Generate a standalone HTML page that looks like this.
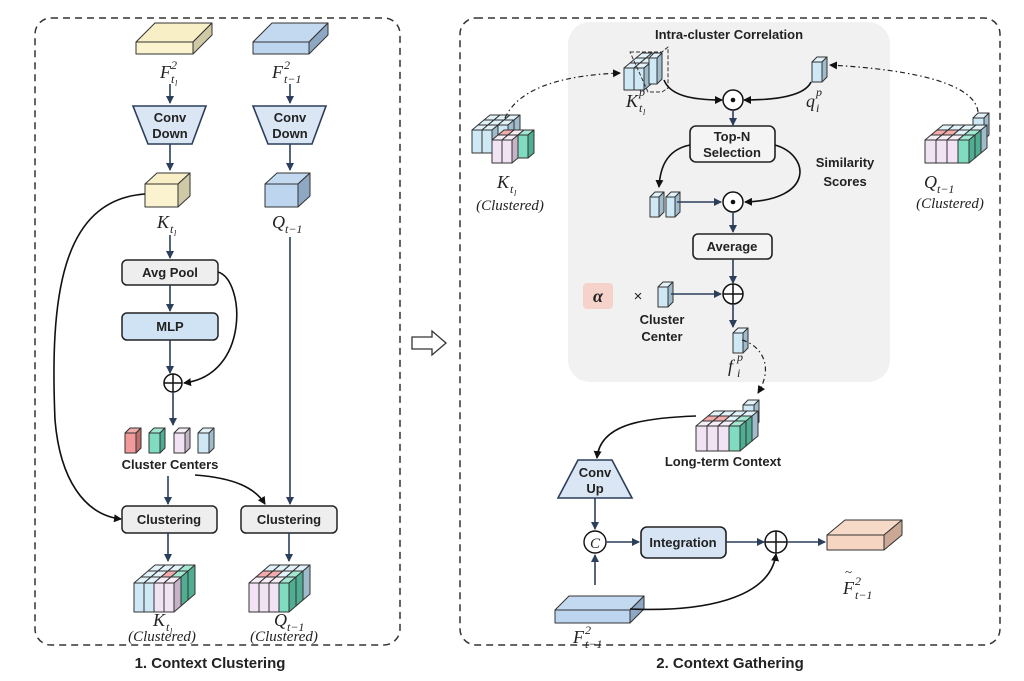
<!DOCTYPE html>
<html><head><meta charset="utf-8">
<style>
html,body{margin:0;padding:0;background:#fff;}
svg{display:block;}
.b{font-family:"Liberation Sans",sans-serif;font-weight:bold;font-size:13px;fill:#222;text-anchor:middle;}
.m{font-family:"Liberation Serif",serif;font-style:italic;font-size:18px;fill:#222;}
.c{font-family:"Liberation Serif",serif;font-style:italic;font-size:15px;fill:#222;text-anchor:middle;}
.s{font-family:"Liberation Serif",serif;font-style:italic;font-size:12px;fill:#222;}
.ss{font-family:"Liberation Serif",serif;font-style:italic;font-size:8px;fill:#222;}
.t{font-family:"Liberation Sans",sans-serif;font-weight:bold;font-size:15px;fill:#222;text-anchor:middle;}
.nv{stroke:#2b3f5c;stroke-width:1.6;fill:none;}
.bk{stroke:#111;stroke-width:1.6;fill:none;}
.dd{stroke:#222;stroke-width:1.2;fill:none;stroke-dasharray:5 3 1.5 3;}
</style></head><body>
<svg id="sv" width="1024" height="681" viewBox="0 0 1024 681" xmlns="http://www.w3.org/2000/svg">
<defs>
<marker id="ah" markerWidth="8" markerHeight="8" refX="7" refY="4" orient="auto" markerUnits="userSpaceOnUse"><path d="M0,0 L8,4 L0,8 z" fill="#2b3f5c"/></marker>
<marker id="ak" markerWidth="8" markerHeight="8" refX="7" refY="4" orient="auto" markerUnits="userSpaceOnUse"><path d="M0,0 L8,4 L0,8 z" fill="#111"/></marker>
</defs>
<rect x="35" y="18" width="365" height="627" rx="16" fill="none" stroke="#333" stroke-width="1.5" stroke-dasharray="7 5"/>
<rect x="460" y="18" width="540" height="627" rx="16" fill="none" stroke="#333" stroke-width="1.5" stroke-dasharray="7 5"/>
<text class="t" x="210" y="668">1. Context Clustering</text>
<text class="t" x="730" y="668">2. Context Gathering</text>
<path d="M412,337 L432,337 L432,331 L446,343 L432,355 L432,349 L412,349 z" fill="#fff" stroke="#333" stroke-width="1.3"/>

<rect x="568" y="22" width="322" height="360" rx="22" fill="#f1f1f1"/>
<text class="b" x="729" y="39">Intra-cluster Correlation</text>

<g id="shapes"></g>

<line class="nv" x1="170" y1="84" x2="170" y2="103" marker-end="url(#ah)"/>
<line class="nv" x1="290" y1="84" x2="290" y2="103" marker-end="url(#ah)"/>
<polygon points="133,106 206,106 192,144 148,144" fill="#dae6f3" stroke="#2b3f5c" stroke-width="1.6"/>
<polygon points="253,106 326,106 312,144 268,144" fill="#dae6f3" stroke="#2b3f5c" stroke-width="1.6"/>
<text class="b" x="170" y="122">Conv</text><text class="b" x="170" y="138">Down</text>
<text class="b" x="290" y="122">Conv</text><text class="b" x="290" y="138">Down</text>
<line class="nv" x1="170" y1="144" x2="170" y2="170" marker-end="url(#ah)"/>
<line class="nv" x1="290" y1="144" x2="290" y2="170" marker-end="url(#ah)"/>
<line class="nv" x1="170" y1="235" x2="170" y2="258" marker-end="url(#ah)"/>
<rect x="122" y="260" width="96" height="25" rx="5" fill="#eeeeee" stroke="#222" stroke-width="1.5"/>
<text class="b" x="170" y="277">Avg Pool</text>
<line class="nv" x1="170" y1="285" x2="170" y2="311" marker-end="url(#ah)"/>
<rect x="122" y="313" width="96" height="27" rx="5" fill="#cfe3f4" stroke="#222" stroke-width="1.5"/>
<text class="b" x="170" y="331">MLP</text>
<line class="nv" x1="170" y1="340" x2="170" y2="373" marker-end="url(#ah)"/>
<circle cx="173" cy="383" r="9" fill="#fff" stroke="#111" stroke-width="1.5"/>
<path d="M164,383 H182 M173,374 V392" stroke="#111" stroke-width="1.5"/>
<path class="bk" d="M218,272 C245,280 250,375 184,383" marker-end="url(#ak)"/>
<line class="nv" x1="173" y1="392" x2="173" y2="425" marker-end="url(#ah)"/>
<text class="b" x="170" y="469">Cluster Centers</text>
<line class="nv" x1="168" y1="476" x2="168" y2="504" marker-end="url(#ah)"/>
<path class="bk" d="M195,475 C235,478 255,488 265,504" marker-end="url(#ak)"/>
<path class="bk" d="M145,194 C60,200 50,300 55,420 C60,480 85,515 121,519" marker-end="url(#ak)"/>
<line class="nv" x1="290" y1="237" x2="290" y2="504" marker-end="url(#ah)"/>
<rect x="122" y="506" width="95" height="27" rx="5" fill="#eeeeee" stroke="#222" stroke-width="1.5"/>
<rect x="241" y="506" width="96" height="27" rx="5" fill="#eeeeee" stroke="#222" stroke-width="1.5"/>
<text class="b" x="169" y="524">Clustering</text>
<text class="b" x="289" y="524">Clustering</text>
<line class="nv" x1="168" y1="533" x2="168" y2="561" marker-end="url(#ah)"/>
<line class="nv" x1="289" y1="533" x2="289" y2="561" marker-end="url(#ah)"/>

<!-- left labels -->
<text class="m" x="160" y="78">F</text><text class="s" x="171" y="83">t</text><text class="ss" x="175" y="86">l</text><text class="s" x="171" y="69">2</text>
<text class="m" x="272" y="78">F</text><text class="s" x="284" y="83">t−1</text><text class="s" x="284" y="69">2</text>
<text class="m" x="157" y="228">K</text><text class="s" x="170" y="233">t</text><text class="ss" x="174" y="236">l</text>
<text class="m" x="272" y="228">Q</text><text class="s" x="285" y="233">t−1</text>
<text class="m" x="153" y="626">K</text><text class="s" x="166" y="631">t</text><text class="ss" x="170" y="634">l</text>
<text class="c" x="162" y="641">(Clustered)</text>
<text class="m" x="274" y="626">Q</text><text class="s" x="287" y="631">t−1</text>
<text class="c" x="284" y="641">(Clustered)</text>

<!-- RIGHT inner -->
<path class="dd" d="M505,118 C520,85 570,75 620,73" marker-end="url(#ak)"/>
<path class="dd" d="M978,112 C975,85 920,70 830,65" marker-end="url(#ak)"/>
<path class="bk" d="M664,80 C670,95 690,100 722,100" marker-end="url(#ak)"/>
<path class="bk" d="M811,82 C805,95 780,100 744,100" marker-end="url(#ak)"/>
<circle cx="733" cy="100" r="10" fill="#fff" stroke="#111" stroke-width="1.5"/><circle cx="733" cy="100" r="2.3" fill="#111"/>
<line class="nv" x1="733" y1="110" x2="733" y2="125" marker-end="url(#ah)"/>
<rect x="690" y="126" width="85" height="36" rx="6" fill="#f4f4f4" stroke="#222" stroke-width="1.6"/>
<text class="b" x="732" y="141">Top-N</text><text class="b" x="732" y="157">Selection</text>
<path class="bk" d="M690,145 C665,150 660,170 659,187" marker-end="url(#ak)"/>
<path class="bk" d="M775,145 C810,155 815,200 745,202" marker-end="url(#ak)"/>
<text class="b" x="845" y="167">Similarity</text><text class="b" x="845" y="186">Scores</text>
<line class="nv" x1="677" y1="202" x2="721" y2="202" marker-end="url(#ah)"/>
<circle cx="733" cy="202" r="10" fill="#fff" stroke="#111" stroke-width="1.5"/><circle cx="733" cy="202" r="2.3" fill="#111"/>
<line class="nv" x1="733" y1="212" x2="733" y2="232" marker-end="url(#ah)"/>
<rect x="693" y="234" width="79" height="25" rx="5" fill="#f4f4f4" stroke="#222" stroke-width="1.6"/>
<text class="b" x="732" y="251">Average</text>
<line class="nv" x1="733" y1="259" x2="733" y2="283" marker-end="url(#ah)"/>
<circle cx="733" cy="294" r="10" fill="#fff" stroke="#111" stroke-width="1.5"/>
<path d="M723,294 H743 M733,284 V304" stroke="#111" stroke-width="1.5"/>
<line class="nv" x1="671" y1="294" x2="721" y2="294" marker-end="url(#ah)"/>
<rect x="583" y="283" width="30" height="26" rx="4" fill="#f5d3cb"/>
<text x="598" y="302" font-family="Liberation Serif,serif" font-style="italic" font-weight="bold" font-size="18" text-anchor="middle" fill="#222">α</text>
<text x="638" y="301" font-family="Liberation Sans,sans-serif" font-size="15" text-anchor="middle" fill="#222">×</text>
<text class="b" x="662" y="324">Cluster</text><text class="b" x="662" y="341">Center</text>
<line class="nv" x1="733" y1="304" x2="733" y2="327" marker-end="url(#ah)"/>
<path class="dd" d="M742,340 C760,345 775,365 758,393" marker-end="url(#ak)"/>

<text class="m" x="626" y="107">K</text><text class="s" x="639" y="112">t</text><text class="ss" x="643" y="115">l</text><text class="s" x="639" y="96">p</text>
<text class="m" x="806" y="107">q</text><text class="s" x="816" y="112">i</text><text class="s" x="816" y="96">p</text>
<text class="m" x="728" y="372">f</text><text class="s" x="737" y="377">i</text><text class="s" x="737" y="361">p</text>
<text class="m" x="497" y="188">K</text><text class="s" x="510" y="193">t</text><text class="ss" x="514" y="196">l</text>
<text class="c" x="510" y="210">(Clustered)</text>
<text class="m" x="924" y="188">Q</text><text class="s" x="937" y="193">t−1</text>
<text class="c" x="950" y="208">(Clustered)</text>

<!-- bottom right -->
<text class="b" x="723" y="466">Long-term Context</text>
<path class="bk" d="M696,416 C640,418 600,425 597,458" marker-end="url(#ak)"/>
<polygon points="578,460 612,460 632,498 558,498" fill="#dae6f3" stroke="#2b3f5c" stroke-width="1.6"/>
<text class="b" x="595" y="477">Conv</text><text class="b" x="595" y="493">Up</text>
<line class="nv" x1="595" y1="498" x2="595" y2="529" marker-end="url(#ah)"/>
<circle cx="595" cy="542" r="11" fill="#fff" stroke="#111" stroke-width="1.4"/>
<text class="c" x="595" y="548">C</text>
<line class="nv" x1="595" y1="585" x2="595" y2="555" marker-end="url(#ah)"/>
<line class="nv" x1="606" y1="542" x2="639" y2="542" marker-end="url(#ah)"/>
<rect x="641" y="527" width="85" height="31" rx="6" fill="#d6e4f3" stroke="#222" stroke-width="1.6"/>
<text class="b" x="683" y="547">Integration</text>
<line class="nv" x1="726" y1="542" x2="764" y2="542" marker-end="url(#ah)"/>
<circle cx="776" cy="542" r="11" fill="#fff" stroke="#111" stroke-width="1.5"/>
<path d="M765,542 H787 M776,531 V553" stroke="#111" stroke-width="1.5"/>
<line class="nv" x1="787" y1="542" x2="825" y2="542" marker-end="url(#ah)"/>
<path class="bk" d="M630,609 C700,612 770,600 776,554" marker-end="url(#ak)"/>
<text class="m" x="843" y="594">F</text><text class="s" x="855" y="599">t−1</text><text class="s" x="855" y="585">2</text>
<text x="845" y="576" font-family="Liberation Serif,serif" font-size="13" fill="#222">~</text>
<text class="m" x="573" y="643">F</text><text class="s" x="585" y="648">t−1</text><text class="s" x="585" y="634">2</text>
</svg>
<script>
var NS="http://www.w3.org/2000/svg",G=document.getElementById("shapes");
var C={lb:["#cfe8f5","#e2f2fa","#9fbccc"],lav:["#f1e3f3","#f6edf7","#c6b3c8"],red:["#f29a9a","#f3abab","#c06d6d"],grn:["#7fdcc0","#a2e7d1","#4fae92"],yel:["#fbf3cf","#f8efc6","#cfc9a5"],blu:["#bdd5ef","#c3d9f0","#8ea7c3"],org:["#f6d6c2","#f6d9c7","#caa895"]};
function poly(pts,f,dash){var p=document.createElementNS(NS,"polygon");p.setAttribute("points",pts.map(function(a){return a.join(",")}).join(" "));p.setAttribute("fill",f);p.setAttribute("stroke","#333");p.setAttribute("stroke-width","1");p.setAttribute("stroke-linejoin","round");if(dash){p.setAttribute("fill","none");p.setAttribute("stroke-dasharray","4 2");}G.appendChild(p);}
function cube(x,y,w,h,dx,dy,c){var k=C[c];
poly([[x,y],[x+w,y],[x+w+dx,y-dy],[x+dx,y-dy]],k[1]);
poly([[x+w,y],[x+w+dx,y-dy],[x+w+dx,y+h-dy],[x+w,y+h]],k[2]);
poly([[x,y],[x+w,y],[x+w,y+h],[x,y+h]],k[0]);}
function block(x,y,w,h,dx,dy,rows){
for(var l=rows.length-1;l>=0;l--)for(var c=0;c<rows[l].length;c++){if(rows[l][c])cube(x+c*w+l*dx,y-l*dy,w,h,dx,dy,rows[l][c]);}}
cube(136,42,57,12,19,19,"yel");
cube(253,42,56,12,19,19,"blu");
cube(145,184,33,23,12,11,"yel");
cube(265,184,33,23,12,11,"blu");
cube(125,433,11,20,5,5,"red");cube(149,433,11,20,5,5,"grn");cube(174,433,11,20,5,5,"lav");cube(198,433,11,20,5,5,"lb");
block(134,583,10,29,7,6,[["lb","lb","lav","lav"],["lb","lb","red","grn"],["lb","lb","lb","grn"]]);
block(249,583,10,29,7,6,[["lav","lav","lav","grn"],["red","red","lb","grn"],["lb","lb","lb","lb"]]);
block(472,130,10,23,6,5,[["lb","lb"],["lb","lb","lb"],["lb","lb","lb"]]);
block(492,140,10,23,6,5,[["lav","lav"],["red","lav","grn"]]);
cube(973,118,11,22,5,5,"lb");
block(925,140,11,23,6,5,[["lav","lav","lav","grn"],["red","red","lb","grn"],["lb","lb","lb","lb"]]);
block(624,68,10,22,6,5,[["lb","lb"],["lb","lb"],["lb","lb"]]);
cube(649,58,8,26,5,5,"lb");
poly([[630,52],[662,52],[668,47],[668,88],[662,92],[648,92]],"none",true);
cube(812,62,10,20,5,5,"lb");
cube(650,197,9,20,5,5,"lb");cube(666,197,9,20,5,5,"lb");
cube(658,287,10,20,5,5,"lb");
cube(733,333,10,20,5,5,"lb");
cube(743,405,11,22,5,5,"lb");
block(696,426,11,25,6,5,[["lav","lav","lav","grn"],["red","red","lb","grn"],["lb","lb","lb","lb"]]);
cube(555,610,75,13,14,14,"blu");
cube(827,535,57,15,18,15,"org");
</script>
</body></html>
